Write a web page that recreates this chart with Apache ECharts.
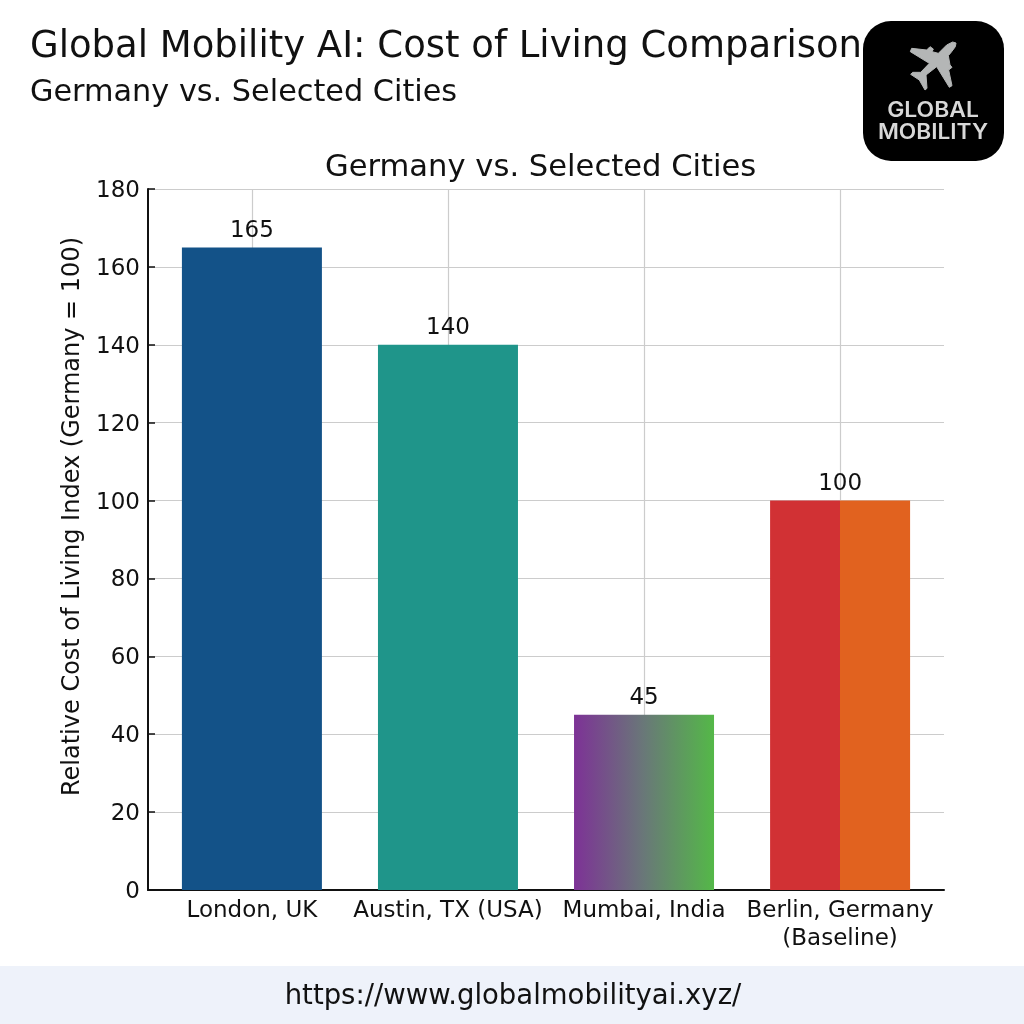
<!DOCTYPE html>
<html>
<head>
<meta charset="utf-8">
<style>html,body{margin:0;padding:0;background:#fff}#chart{width:1024px;height:1024px}</style>
<script src="https://cdn.jsdelivr.net/npm/echarts@6/dist/echarts.min.js"></script>
</head>
<body>
<div id="chart"></div>
<script>
// Relative cost of living by city, Germany = 100
const cities = ['London, UK', 'Austin, TX (USA)', 'Mumbai, India', 'Berlin, Germany\n(Baseline)'];
const costIndex = [165, 140, 45, 100];
const positions = [0, 1, 2, 3];
const yTicks = { min: 0, max: 180, interval: 20 };

const sideways = stops => ({ type: 'linear', x: 0, y: 0, x2: 1, y2: 0, colorStops: stops });
const barFills = [
  '#135288',
  '#1f958a',
  sideways([{ offset: 0, color: '#7d3296' }, { offset: 0.5, color: '#697878' }, { offset: 1, color: '#54b848' }]),
  sideways([{ offset: 0, color: '#d13134' }, { offset: 0.5, color: '#d13134' }, { offset: 0.5, color: '#e1621f' }, { offset: 1, color: '#e1621f' }])
];

const FONT = '"DejaVu Sans"';
// Aeroplane outline for the badge, in thirds of a pixel from the icon's corner
const PLANE = [[168,24],[166,35],[155,50],[145,62],[150,90],[156,97],[146,105],[156,152],[148,157],[110,95],[78,120],[81,160],[75,165],[58,135],[32,118],[38,112],[62,112],[88,85],[31,50],[35,40],[80,45],[90,35],[100,42],[96,50],[115,55],[140,30],[158,21]]
  .map(p => [900 + p[0] / 3, 35 + p[1] / 3]);

const chart = echarts.init(document.getElementById('chart'), null, { renderer: 'canvas' });
chart.setOption({
  animation: false,
  backgroundColor: '#ffffff',
  title: {
    text: 'Germany vs. Selected Cities',
    left: 320, top: 148,
    textStyle: { fontFamily: FONT, fontSize: 30.6, fontWeight: 'normal', color: '#111111' }
  },
  grid: { left: 148, right: 80, top: 189, bottom: 134 },
  xAxis: {
    type: 'value', min: -0.53, max: 3.53,
    axisLine: { show: true, onZero: false, lineStyle: { color: '#111111', width: 2 } },
    axisTick: { show: true, inside: true, length: 7, customValues: positions, lineStyle: { color: '#111111', width: 1.5 } },
    axisLabel: {
      show: true, customValues: positions, margin: 7,
      fontFamily: FONT, fontSize: 23, color: '#111111', lineHeight: 28,
      formatter: v => cities[Math.round(v)]
    },
    splitLine: { show: true, lineStyle: { color: '#cccccc', width: 1.2 } }
  },
  yAxis: {
    type: 'value', min: yTicks.min, max: yTicks.max, interval: yTicks.interval,
    name: 'Relative Cost of Living Index (Germany = 100)',
    nameLocation: 'middle', nameGap: 62, nameRotate: 90,
    nameTextStyle: { fontFamily: FONT, fontSize: 24, color: '#111111', padding: [0, 0, 0, 46] },
    axisLine: { show: true, onZero: false, lineStyle: { color: '#111111', width: 2 } },
    axisTick: { show: true, inside: true, length: 7, lineStyle: { color: '#111111', width: 1.5 } },
    axisLabel: { margin: 8, fontFamily: FONT, fontSize: 23, color: '#111111', verticalAlign: 'top', lineHeight: 4 },
    splitLine: { show: true, lineStyle: { color: '#cccccc', width: 1.2 } }
  },
  series: [{
    type: 'bar',
    barWidth: 140,
    data: costIndex.map((v, i) => ({ value: [positions[i], v], itemStyle: { color: barFills[i] } })),
    label: {
      show: true, position: 'top', distance: 5,
      fontFamily: FONT, fontSize: 23, color: '#111111',
      formatter: p => String(p.value[1])
    },
    z: 3
  }],
  graphic: [
    { type: 'rect', x: 0, y: 966, z: 0, shape: { width: 1024, height: 58 }, style: { fill: '#eef2fa' } },
    { type: 'text', x: 513, y: 997, z: 5, style: { text: 'https://www.globalmobilityai.xyz/', font: '27.5px "DejaVu Sans"', fill: '#111111', textAlign: 'center', textVerticalAlign: 'middle' } },
    { type: 'text', x: 30, y: 47, z: 5, style: { text: 'Global Mobility AI: Cost of Living Comparison', font: '37px "DejaVu Sans"', fill: '#111111', textVerticalAlign: 'middle' } },
    { type: 'text', x: 30, y: 93, z: 5, style: { text: 'Germany vs. Selected Cities', font: '30.3px "DejaVu Sans"', fill: '#111111', textVerticalAlign: 'middle' } },
    { type: 'rect', x: 863, y: 21, z: 6, shape: { width: 141, height: 140, r: 28 }, style: { fill: '#000000' } },
    { type: 'polygon', z: 7, shape: { points: PLANE }, style: { fill: '#b4b6b6', stroke: '#b4b6b6', lineWidth: 1, lineJoin: 'round' } },
    { type: 'text', z: 7, x: 933, y: 111, scaleX: 1.09, style: { text: 'GLOBAL', font: '600 21px "Inter"', fill: '#d8d8d8', textAlign: 'center', textVerticalAlign: 'middle' } },
    { type: 'text', z: 7, x: 933, y: 133, scaleX: 1.08, style: { text: 'MOBILITY', font: '600 21px "Inter"', fill: '#d8d8d8', textAlign: 'center', textVerticalAlign: 'middle' } }
  ]
});
</script>
</body>
</html>
